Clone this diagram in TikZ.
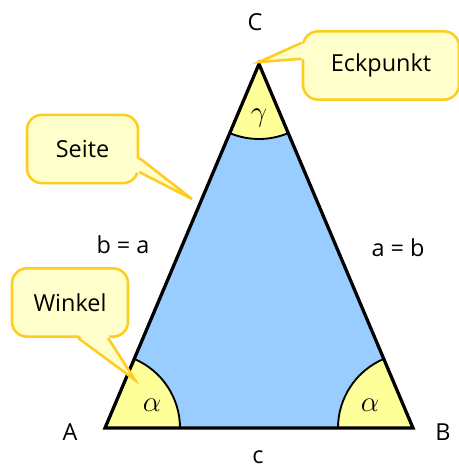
\documentclass[tikz,border=0pt]{standalone}
\usepackage{fontspec}
\setmainfont{Open Sans}
\usepackage{xcolor}
\definecolor{triblue}{HTML}{99CCFF}
\definecolor{angleyellow}{HTML}{FFFF99}
\definecolor{notefill}{HTML}{FFFFCC}
\definecolor{noteline}{HTML}{FFCC22}
\usepackage{tikz}
\usetikzlibrary{positioning, calc}

\begin{document}
\begin{tikzpicture}[x=0.03cm, y=0.03cm, font=\fontsize{20}{24}\selectfont,
    note/.style={draw=noteline, line width=2.2pt, fill=notefill, rounded corners=0.45cm,
                 inner sep=0pt, minimum height=2.05cm},
    noteptr/.style={draw=noteline, line width=2.2pt, line join=miter},
    anglesec/.style={fill=angleyellow, draw=black, line width=1.6pt},
    anglelab/.style={font=\fontsize{24}{28}\selectfont}]
  \useasboundingbox (0,0) rectangle (459,470);
  % vertices
  \coordinate (A) at (105,42);
  \coordinate (B) at (413,42);
  \coordinate (C) at (259,406);
  % triangle and angles
  \fill[triblue] (A) -- (B) -- (C) -- cycle;
  \filldraw[anglesec] (A) -- ++(0:75) arc (0:67.07:75) -- cycle;
  \filldraw[anglesec] (B) -- ++(112.93:75) arc (112.93:180:75) -- cycle;
  \filldraw[anglesec] (C) -- ++(247.07:75) arc (247.07:292.93:75) -- cycle;
  \draw[line width=2.8pt, line join=miter] (A) -- (B) -- (C) -- cycle;
  \node[anglelab] (alphaA) at (152,65) {$\alpha$};
  \node[anglelab] (alphaB) at (370,65) {$\alpha$};
  \node[anglelab] (gammaC) at (259,352) {$\gamma$};
  % labels
  \node (labA) at (70,38) {A};
  \node (labB) at (443,38) {B};
  \node (labC) at (255,448) {C};
  \node[inner sep=1pt] (labc) at (258,13) {c};
  \node (labb) at (123,225) {b = a};
  \node (laba) at (398,222) {a = b};
  % callouts
  \node[note, minimum width=4.68cm] (eck) at (381,404.5) {Eckpunkt};
  \coordinate (eckTip) at (259,408);
  \coordinate (eckP) at ($(eck.west)+(0,0.68cm)$);
  \coordinate (eckQ) at ($(eck.west)+(0,0.2cm)$);
  \fill[notefill] ($(eckP)+(0.1cm,0)$) -- (eckTip) -- ($(eckQ)+(0.1cm,0)$) -- cycle;
  \draw[noteptr] (eckP) -- (eckTip) -- (eckQ);

  \node[note, minimum width=3.33cm] (seite) at (82.5,321) {Seite};
  \coordinate (seiteTip) at (192,271);
  \coordinate (seiteP) at ($(seite.east)+(0,-0.27cm)$);
  \coordinate (seiteQ) at ($(seite.east)+(0,-0.69cm)$);
  \fill[notefill] ($(seiteP)+(-0.1cm,0)$) -- (seiteTip) -- ($(seiteQ)+(-0.1cm,0)$) -- cycle;
  \draw[noteptr] (seiteP) -- (seiteTip) -- (seiteQ);

  \node[note, minimum width=3.48cm] (winkel) at (70,167.5) {Winkel};
  \coordinate (winkelTip) at (135,90);
  \coordinate (winkelP) at ($(winkel.south)+(0.24cm,0)$);
  \coordinate (winkelQ) at ($(winkel.south)+(1.14cm,0)$);
  \fill[notefill] ($(winkelP)+(0,0.1cm)$) -- (winkelTip) -- ($(winkelQ)+(0,0.1cm)$) -- cycle;
  \draw[noteptr] (winkelP) -- (winkelTip) -- (winkelQ);
\end{tikzpicture}
\end{document}
